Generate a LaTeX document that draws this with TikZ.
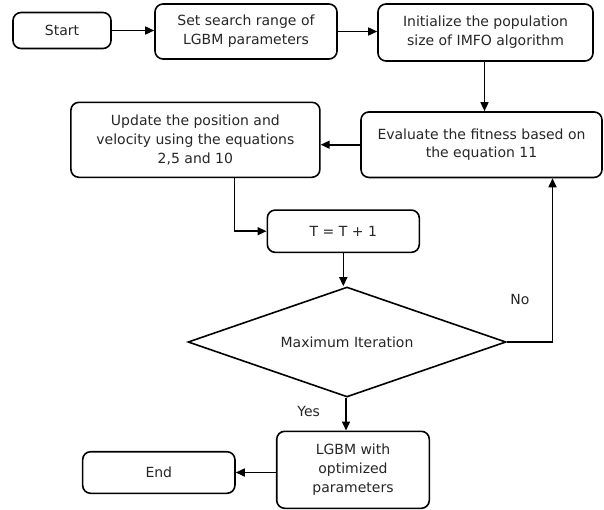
\documentclass[tikz,border=0pt]{standalone}
\usepackage{fontspec}
\setmainfont{DejaVu Sans}
\usetikzlibrary{arrows.meta,shapes.geometric}
\begin{document}
\begin{tikzpicture}[x=1pt,y=-1pt,
  box/.style={draw, line width=1.6pt, rounded corners=8pt, align=center, inner sep=0pt,
    font=\fontsize{14}{18.8}\selectfont, text=black!85},
  dec/.style={draw, diamond, line width=1.6pt, align=center, inner sep=0pt, aspect=2.9,
    font=\fontsize{14}{18.8}\selectfont, text=black!85},
  arr/.style={line width=1.6pt, -{Triangle[length=9pt,width=8pt]}},
  lab/.style={font=\fontsize{14}{18.8}\selectfont, text=black!85}]
\useasboundingbox (0,0) rectangle (604,509);
\node[box, minimum width=98pt, minimum height=36pt] (start) at (62,30.5) {Start};
\node[box, minimum width=182pt, minimum height=55pt] (set) at (246,31.5) {Set search range of\\LGBM parameters};
\node[box, minimum width=215pt, minimum height=57pt] (init) at (485.5,32.5) {Initialize the population\\size of IMFO algorithm};
\node[box, minimum width=241pt, minimum height=65.5pt] (eval) at (481.5,144.7) {Evaluate the fitness based on\\the equation 11};
\node[box, minimum width=249pt, minimum height=75pt] (upd) at (195.4,139.8) {Update the position and\\velocity using the equations\\2,5 and 10};
\node[box, minimum width=152pt, minimum height=42.3pt] (tt) at (343.3,231.2) {T = T + 1};
\node[dec, minimum width=318pt, minimum height=110pt] (dia) at (347,342) {Maximum Iteration};
\node[box, minimum width=152.6pt, minimum height=77pt] (lg) at (353,469.8) {LGBM with\\optimized\\parameters};
\node[box, minimum width=152.3pt, minimum height=41.6pt] (fin) at (158.8,472.5) {End};
\node[lab] (no) at (520,299.3) {No};
\node[lab] (yes) at (308.7,411.7) {Yes};
\draw[arr] (start.east) -- (start.east -| set.west);
\draw[arr] (set.east) -- (set.east -| init.west);
\draw[arr] ([xshift=-1pt]init.south) -- ([xshift=-1pt]init.south |- eval.north);
\draw[arr] (eval.west) -- (eval.west -| upd.east);
\draw[arr] ([xshift=39pt]upd.south) |- (tt.west);
\draw[arr] (tt.south) -- (tt.south |- dia.north);
\draw[arr] ([xshift=-1pt]dia.south) -- ([xshift=-1pt]dia.south |- lg.north);
\draw[arr] (lg.west |- fin.east) -- (fin.east);
\draw[arr] (dia.east) -| ([xshift=71pt]eval.south);
\end{tikzpicture}
\end{document}
